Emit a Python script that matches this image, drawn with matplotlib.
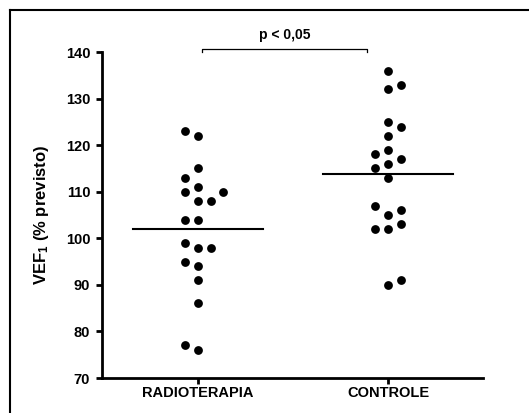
import numpy as np
import matplotlib
matplotlib.use("Agg")
import matplotlib.pyplot as plt
from matplotlib.lines import Line2D

plt.rcParams['font.family'] = ['Liberation Sans', 'DejaVu Sans']
plt.rcParams['font.weight'] = 'bold'
plt.rcParams['mathtext.fontset'] = 'custom'
plt.rcParams['mathtext.rm'] = 'Liberation Sans:bold'
plt.rcParams['mathtext.default'] = 'rm'

# VEF1 (% previsto) per group
groups = ["RADIOTERAPIA", "CONTROLE"]
radioterapia = [122, 123, 115, 113, 111, 110, 108, 108, 110, 104,
                104, 98, 99, 98, 94, 95, 91, 86, 76, 77]
controle = [136, 132, 133, 125, 124, 122, 119, 117, 118, 116,
            115, 113, 105, 106, 107, 102, 103, 102, 90, 91]
yticks = [70, 80, 90, 100, 110, 120, 130, 140]
p_text = "p < 0,05"

# layout
swarm_side = [-1, 1]      # which side a colliding dot tries first
slot = 0.066              # horizontal spacing of dots (category units)
half_mean = 0.34          # half width of the mean line


def swarm(values, side, thr=2.5):
    ''' simple dot plot arrangement: put each value in the first free column '''
    order = [0, side, -side, -2 * side, 2 * side]
    placed = []
    offs = []
    for v in values:
        for k in order:
            if all(not (c == k and abs(v - w) < thr) for w, c in placed):
                break
        placed.append((v, k))
        offs.append(k)
    return np.array(offs)


fig = plt.figure(figsize=(5.29, 4.13), dpi=100)
ax = fig.add_axes([102 / 529, 1 - 378 / 413, 381 / 529, 326 / 413])

for i, vals in enumerate([radioterapia, controle]):
    offs = swarm(vals, swarm_side[i])
    ax.scatter(i + offs * slot, vals, s=40, color='black', zorder=3,
               clip_on=False, linewidths=0)
    m = np.mean(vals)
    ax.plot([i - half_mean, i + half_mean], [m, m], color='black', lw=1.5)

ax.set_xlim(-0.505, 1.5)
ax.set_ylim(70, 140)
ax.set_yticks(yticks)
ax.set_xticks(range(len(groups)))
ax.set_xticklabels(groups)

for s in ['top', 'right']:
    ax.spines[s].set_visible(False)
for s in ['left', 'bottom']:
    ax.spines[s].set_linewidth(2.0)
ax.tick_params(axis='y', length=4, width=2.0, pad=4.5, labelsize=10.5)
ax.tick_params(axis='x', length=4, width=2.0, pad=2, labelsize=10.5)
for lab in ax.get_xticklabels() + ax.get_yticklabels():
    lab.set_fontweight('bold')

ax.set_ylabel(r'VEF$_{1}$ (% previsto)', fontsize=12, fontweight='bold')
ax.yaxis.set_label_coords(-0.135, 0.5)

# significance bracket
yb = 140.6
ax.plot([0.02, 0.02, 0.89, 0.89], [yb - 0.5, yb, yb, yb - 0.5],
        color='black', lw=0.9, clip_on=False)
ax.annotate(p_text, xy=(0.455, yb), xytext=(0, 10), textcoords='offset points',
            ha='center', va='center', fontsize=10, fontweight='bold',
            annotation_clip=False)

# frame around the picture (only top and left are visible)
fig.add_artist(Line2D([10 / 529, 10 / 529], [0, 1 - 10 / 413],
                      transform=fig.transFigure, color='black', lw=1.5))
fig.add_artist(Line2D([10 / 529, 1], [1 - 10 / 413, 1 - 10 / 413],
                      transform=fig.transFigure, color='black', lw=1.5))

fig.savefig("out.png", dpi=100)
